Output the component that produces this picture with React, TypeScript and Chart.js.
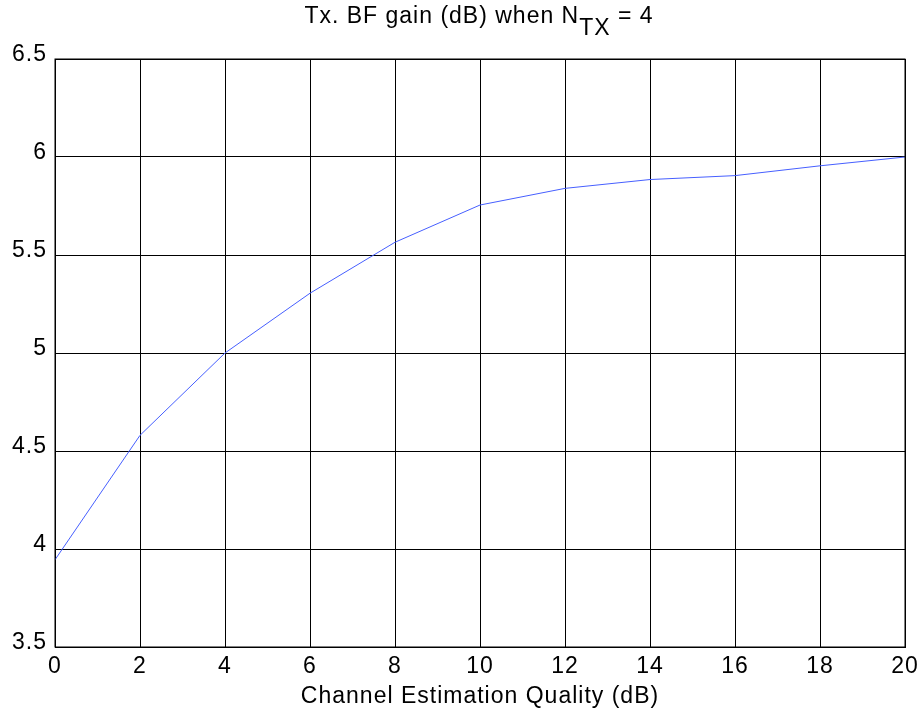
import React, { useEffect, useRef } from "react";
import { Chart, registerables } from "chart.js";

Chart.register(...registerables);

const xValues: number[] = [0, 2, 4, 6, 8, 10, 12, 14, 16, 18, 20];
const gainValues: number[] = [3.945, 4.58, 5.0, 5.305, 5.565, 5.755, 5.84, 5.885, 5.905, 5.955, 6.0];
const titleMain = "Tx. BF gain (dB) when N";
const titleSub = "TX";
const titleTail = " = 4";
const xAxisTitle = "Channel Estimation Quality (dB)";

const FONT = "'Liberation Sans', Arial, Helvetica, sans-serif";
const SPACING = "1px";
const SIZE = 23;

const spacingPlugin = {
  id: "spacing",
  beforeUpdate(chart: any) {
    (chart.ctx as any).letterSpacing = SPACING;
  },
  beforeDraw(chart: any) {
    (chart.ctx as any).letterSpacing = SPACING;
  },
};

const titlePlugin = {
  id: "subTitle",
  afterDraw(chart: any) {
    const ctx = chart.ctx;
    const area = chart.chartArea;
    ctx.save();
    (ctx as any).letterSpacing = SPACING;
    ctx.fillStyle = "#000";
    ctx.textBaseline = "alphabetic";
    ctx.font = SIZE + "px " + FONT;
    const w1 = ctx.measureText(titleMain).width;
    const w2 = ctx.measureText(titleSub).width;
    const w3 = ctx.measureText(titleTail).width;
    const total = w1 + w2 + w3;
    const cx = (area.left + area.right) / 2 - 1;
    let x = cx - total / 2;
    const base = 23;
    ctx.textAlign = "left";
    ctx.fillText(titleMain, x, base);
    x += w1;
    ctx.fillText(titleSub, x, base + 12);
    x += w2;
    ctx.fillText(titleTail, x, base);
    ctx.restore();
  },
};

export default function App() {
  const ref = useRef<HTMLCanvasElement | null>(null);
  useEffect(() => {
    document.body.style.margin = "0";
    const canvas = ref.current;
    if (!canvas) return;
    const chart = new Chart(canvas, {
      type: "line",
      data: {
        datasets: [
          {
            data: xValues.map((x, i) => ({ x, y: gainValues[i] })),
            borderColor: "rgb(70,95,255)",
            borderWidth: 1,
            pointRadius: 0,
            tension: 0,
            fill: false,
          },
        ],
      },
      options: {
        animation: false,
        responsive: false,
        maintainAspectRatio: false,
        layout: { padding: { top: 59, right: 17, left: 0, bottom: 0 } },
        plugins: { legend: { display: false }, tooltip: { enabled: false } },
        scales: {
          x: {
            type: "linear",
            min: 0,
            max: 20,
            afterFit(scale: any) {
              scale.height = 70;
              scale.paddingLeft = 0;
              scale.paddingRight = 0;
            },
            ticks: {
              stepSize: 2,
              color: "#000",
              font: { family: FONT, size: SIZE },
              padding: 6,
              maxRotation: 0,
            },
            grid: { color: "#000", lineWidth: 1, drawTicks: false },
            border: { color: "#000", width: 1 },
            title: {
              display: true,
              text: xAxisTitle,
              color: "#000",
              font: { family: FONT, size: SIZE },
              padding: { top: 0, bottom: 7 },
            },
          },
          y: {
            min: 3.5,
            max: 6.5,
            afterFit(scale: any) {
              scale.width = 55;
              scale.paddingTop = 0;
              scale.paddingBottom = 0;
            },
            ticks: {
              stepSize: 0.5,
              color: "#000",
              font: { family: FONT, size: SIZE },
              padding: 8,
              labelOffset: -4,
              callback: (v: any) => String(v),
            },
            grid: { color: "#000", lineWidth: 1, drawTicks: false },
            border: { color: "#000", width: 1 },
          },
        },
      },
      plugins: [
        spacingPlugin,
        titlePlugin,
        {
          id: "frame",
          afterDraw(chart: any) {
            const { ctx, chartArea: a } = chart;
            ctx.save();
            ctx.strokeStyle = "#000";
            ctx.lineWidth = 1;
            ctx.strokeRect(a.left, a.top, a.right - a.left, a.bottom - a.top);
            ctx.restore();
          },
        },
      ],
    } as any);
    return () => chart.destroy();
  }, []);
  return (
    <div style={{ width: 922, height: 717, background: "#fff" }}>
      <canvas ref={ref} width={922} height={717} style={{ width: 922, height: 717, display: "block" }} />
    </div>
  );
}
